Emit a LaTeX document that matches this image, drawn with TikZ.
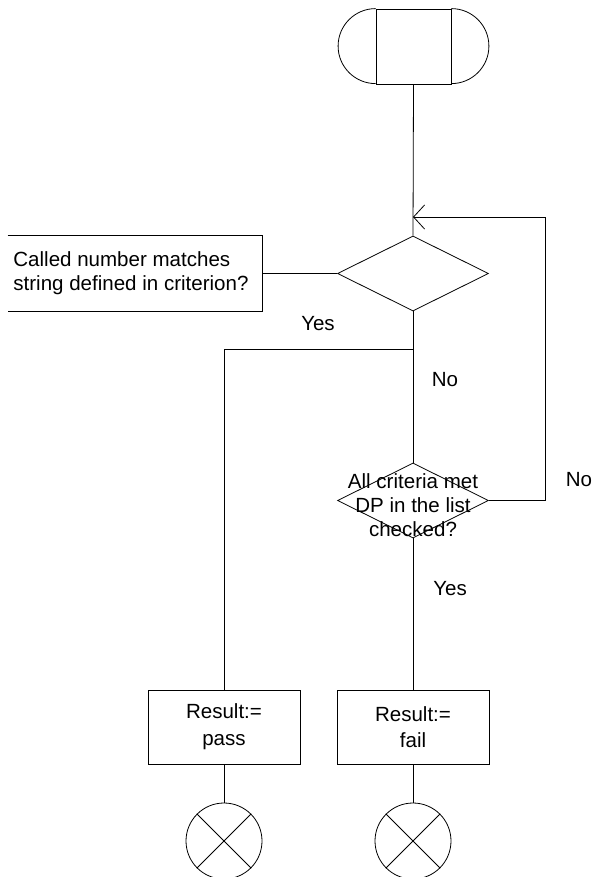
\documentclass[tikz,border=0pt]{standalone}
\usepackage{fontspec}
\setmainfont{Liberation Sans}
\usetikzlibrary{shapes.geometric,arrows.meta}
\begin{document}
\begin{tikzpicture}[x=0.75pt,y=-0.75pt,
  every path/.style={line width=0.6pt},
  lbl/.style={font=\fontsize{15.4pt}{18pt}\selectfont, inner sep=0pt},
  dec/.style={draw, diamond, aspect=2, inner sep=0pt, minimum width=113.25pt, minimum height=56.25pt},
  taskbox/.style={draw, rectangle, minimum width=114pt, minimum height=55.5pt, align=center, inner sep=0pt, font=\fontsize{15.4pt}{20pt}\selectfont},
  endsym/.style={draw, circle, minimum size=57pt, inner sep=0pt},
  loopArrow/.style={-{Straight Barb[length=8.25pt,width=18pt]}}
]
\useasboundingbox (0,0) rectangle (596,877);
% start terminator
\node[draw, rectangle, minimum width=56.25pt, minimum height=56.25pt, inner sep=0pt] (start) at (413.5,46.5) {};
\draw (start.north west) arc (90:270:28.125pt);
\draw (start.north east) arc (90:-90:28.125pt);
% decisions
\node[dec] (d1) at (413,273.5) {};
\node[dec] (d2) at (413,500.5) {};
\node[lbl, align=center] (d2t) at (413,505) {All criteria met\\DP in the list\\checked?};
% comment
\node[rectangle, minimum width=190.5pt, minimum height=56.25pt, inner sep=0pt] (comment) at (135,273.5) {};
\node[lbl, align=left, anchor=west] (commentt) at (13,273.5) {Called number matches\\string defined in criterion?};
\draw (comment.north west) -- (comment.north east) -- (comment.south east) -- (comment.south west);
\draw (comment.east) -- (d1.west);
% merge point and branch
\coordinate (merge) at (413,217);
\coordinate (branch) at (413,349);
\coordinate (branchL) at (224,349);
\coordinate (loopA) at (545,500.5);
\coordinate (loopB) at (545,217);
% results
\node[taskbox] (pass) at (224,727) {Result:=\\pass};
\node[taskbox] (fail) at (413,727) {Result:=\\fail};
% stops
\node[endsym] (stop1) at (224,841) {};
\node[endsym] (stop2) at (413,841) {};
\foreach \s in {stop1,stop2}{
  \draw (\s.45) -- (\s.225);
  \draw (\s.135) -- (\s.315);
}
% connectors
\draw (start.south) -- (d1.north);
\draw (d1.south) -- (d2.north);
\draw (branch) -- (branchL) -- (pass.north);
\draw (d2.south) -- (fail.north);
\draw[loopArrow] (d2.east) -- (loopA) -- (loopB) -- (merge);
\draw (pass.south) -- (stop1.north);
\draw (fail.south) -- (stop2.north);
% labels
\node[lbl] (yes1) at (318,324) {Yes};
\node[lbl] (no1) at (445,380) {No};
\node[lbl] (no2) at (579,480) {No};
\node[lbl] (yes2) at (450,589) {Yes};
\end{tikzpicture}
\end{document}
